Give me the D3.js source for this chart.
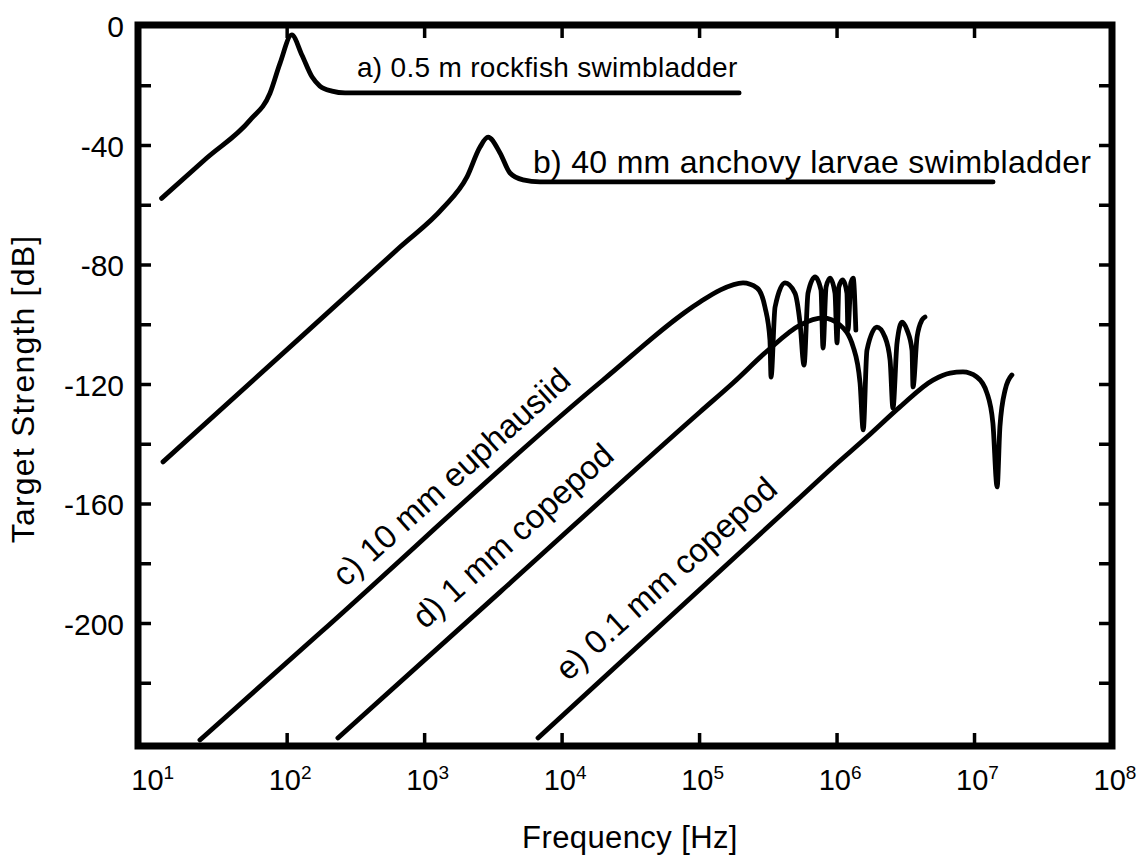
<!DOCTYPE html>
<html><head><meta charset="utf-8">
<script src="https://cdn.jsdelivr.net/npm/d3@7"></script>
<style>
body{margin:0;background:#fff}
svg{display:block}
text{font-family:"Liberation Sans",Arial,Helvetica,sans-serif;fill:#000}
</style>
</head><body>
<svg id="chart" width="1147" height="862"></svg>
<script>
// ---- tick data ----
const xTickValues = [1e1, 1e2, 1e3, 1e4, 1e5, 1e6, 1e7, 1e8];
const xTickExponents = ["1", "2", "3", "4", "5", "6", "7", "8"];
const yLabelTicks = [0, -40, -80, -120, -160, -200];
const yAllTicks = [0, -20, -40, -60, -80, -100, -120, -140, -160, -180, -200, -220, -240];

// ---- series (frequency Hz, target strength dB) ----
const rockfishFreq = [12.2, 26, 53.7, 75, 88.7, 108, 128, 152, 173, 212, 264, 1294, 194000];
const rockfishTS   = [-57.7, -44.2, -31.5, -22.5, -12.5, -3.0, -9.7, -17.1, -20.1, -21.8, -22.4, -22.4, -22.4];

const anchovyFreq = [12.5, 124, 662, 1360, 2033, 2529, 2891, 3535, 4178, 5196, 6905, 1.364e7];
const anchovyTS   = [-145.9, -104.4, -74.0, -60.9, -50.5, -40.5, -37.2, -42.5, -49.2, -51.5, -52.2, -52.2];

const euphausiidFreq = [23.2, 173, 19860, 1.007e5, 1.409e5, 2.07e5, 2.62e5, 2.99e5, 3.25e5, 3.31e5, 3.54e5, 4.18e5, 4.94e5, 5.38e5, 5.75e5, 6.15e5, 6.92e5, 7.64e5, 7.91e5, 8.32e5, 8.89e5, 9.66e5, 1.0e6, 1.03e6, 1.10e6, 1.18e6, 1.20e6, 1.26e6, 1.31e6, 1.37e6];
const euphausiidTS   = [-239.0, -203.2, -118.5, -92.4, -88.4, -86.0, -87.7, -94.1, -105.1, -117.5, -94.1, -86.0, -89.4, -99.4, -113.5, -89.4, -84.0, -88.4, -107.8, -87.4, -84.4, -89.4, -106.1, -87.4, -85.0, -89.4, -101.8, -86.0, -84.4, -101.8];

const copepod1Freq = [234, 3535, 1.007e5, 1.75e5, 3.10e5, 5.38e5, 7.91e5, 1.05e6, 1.31e6, 1.47e6, 1.55e6, 1.65e6, 1.95e6, 2.23e6, 2.43e6, 2.55e6, 2.73e6, 2.97e6, 3.23e6, 3.51e6, 3.57e6, 3.82e6, 4.15e6, 4.36e6];
const copepod1TS   = [-238.3, -189.5, -129.2, -119.5, -108.8, -100.1, -97.7, -100.1, -107.4, -119.5, -135.2, -108.5, -100.8, -104.1, -111.8, -127.9, -106.1, -99.1, -101.8, -108.5, -120.8, -104.1, -98.4, -97.4];

const copepod01Freq = [6683, 5.12e5, 9.35e5, 1.65e6, 2.87e6, 4.99e6, 6.64e6, 8.24e6, 1.04e7, 1.23e7, 1.36e7, 1.46e7, 1.53e7, 1.67e7, 1.87e7];
const copepod01TS   = [-238.3, -158.7, -147.6, -137.6, -127.5, -118.5, -116.2, -115.8, -117.5, -122.8, -132.9, -154.3, -134.2, -121.8, -116.8];

const seriesLabels = [
  "a) 0.5 m rockfish swimbladder",
  "b) 40 mm anchovy larvae swimbladder",
  "c) 10 mm euphausiid",
  "d) 1 mm copepod",
  "e) 0.1 mm copepod"
];

// ---- build ----
const svg = d3.select("#chart");
const x = d3.scaleLog().domain([Math.pow(10, 0.915), 1e8]).range([138, 1112]);
const y = d3.scaleLinear().domain([-240, 0]).range([743, 26]);

const frameL = 138, frameR = 1112, frameT = 25, frameB = 746;

const series = [
  {f: rockfishFreq, ts: rockfishTS},
  {f: anchovyFreq, ts: anchovyTS},
  {f: euphausiidFreq, ts: euphausiidTS},
  {f: copepod1Freq, ts: copepod1TS},
  {f: copepod01Freq, ts: copepod01TS}
];

const line = d3.line()
  .x(d => x(d[0]))
  .y(d => y(d[1]))
  .curve(d3.curveMonotoneX);

svg.append("g").selectAll("path")
  .data(series)
  .join("path")
  .attr("d", s => line(s.f.map((f, i) => [f, s.ts[i]])))
  .attr("fill", "none")
  .attr("stroke", "#000")
  .attr("stroke-width", 4.8)
  .attr("stroke-linejoin", "round")
  .attr("stroke-linecap", "round");

// ticks (inward, on all four sides)
const tickLen = 13;
const tg = svg.append("g").attr("stroke", "#000").attr("stroke-width", 3.5);
xTickValues.filter(v => x(v) > frameL + 20 && x(v) < frameR - 5).forEach(v => {
  tg.append("line").attr("x1", x(v)).attr("x2", x(v)).attr("y1", frameB).attr("y2", frameB - tickLen);
  tg.append("line").attr("x1", x(v)).attr("x2", x(v)).attr("y1", frameT).attr("y2", frameT + tickLen);
});
yAllTicks.filter(v => y(v) > frameT + 5 && y(v) < frameB - 5).forEach(v => {
  tg.append("line").attr("x1", frameL).attr("x2", frameL + tickLen).attr("y1", y(v)).attr("y2", y(v));
  tg.append("line").attr("x1", frameR).attr("x2", frameR - tickLen).attr("y1", y(v)).attr("y2", y(v));
});

// frame
svg.append("rect")
  .attr("x", frameL).attr("y", frameT)
  .attr("width", frameR - frameL).attr("height", frameB - frameT)
  .attr("fill", "none").attr("stroke", "#000").attr("stroke-width", 7);

// y tick labels
svg.append("g").selectAll("text")
  .data(yLabelTicks)
  .join("text")
  .attr("x", 124)
  .attr("y", d => y(d) + 11)
  .attr("text-anchor", "end")
  .attr("font-size", 30)
  .text(d => d);

// x tick labels
const xl = svg.append("g").selectAll("text")
  .data(xTickValues)
  .join("text")
  .attr("x", d => x(d) + 3)
  .attr("y", 790)
  .attr("text-anchor", "middle")
  .attr("font-size", 29);
xl.append("tspan").text("10");
xl.append("tspan").attr("font-size", 19).attr("dy", -11).text((d, i) => xTickExponents[i]);

// axis titles
svg.append("text")
  .attr("x", 630).attr("y", 848)
  .attr("text-anchor", "middle")
  .attr("font-size", 31)
  .attr("letter-spacing", 0.4)
  .text("Frequency [Hz]");
svg.append("text")
  .attr("transform", "translate(34,389) rotate(-90)")
  .attr("text-anchor", "middle")
  .attr("font-size", 32)
  .attr("letter-spacing", 1.2)
  .text("Target Strength [dB]");

// series labels
svg.append("text").attr("x", 357).attr("y", 77).attr("font-size", 28).attr("letter-spacing", 0.3).text(seriesLabels[0]);
svg.append("text").attr("x", 533).attr("y", 173).attr("font-size", 32).attr("letter-spacing", 0.3).text(seriesLabels[1]);
svg.append("text").attr("transform", "translate(345,588) rotate(-42)").attr("font-size", 33).text(seriesLabels[2]);
svg.append("text").attr("transform", "translate(425,630) rotate(-42)").attr("font-size", 33).text(seriesLabels[3]);
svg.append("text").attr("transform", "translate(568,682) rotate(-42)").attr("font-size", 33).text(seriesLabels[4]);
</script>
</body></html>
